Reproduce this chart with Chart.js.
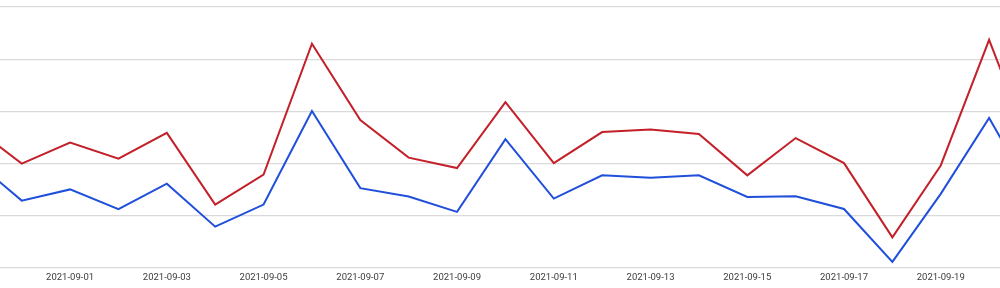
<!DOCTYPE html>
<html>
<head>
<meta charset="utf-8">
<script src="https://cdn.jsdelivr.net/npm/chart.js@4"></script>
<style>
  html, body { margin: 0; padding: 0; background: #fff; }
  #wrap { width: 1000px; height: 288px; position: relative; }
</style>
</head>
<body>
<div id="wrap"><canvas id="chart"></canvas></div>
<script>
// dates shown (the view is cropped at both ends)
const dates = [
  '2021-08-30', '2021-08-31', '2021-09-01', '2021-09-02', '2021-09-03', '2021-09-04',
  '2021-09-05', '2021-09-06', '2021-09-07', '2021-09-08', '2021-09-09', '2021-09-10',
  '2021-09-11', '2021-09-12', '2021-09-13', '2021-09-14', '2021-09-15', '2021-09-16',
  '2021-09-17', '2021-09-18', '2021-09-19', '2021-09-20', '2021-09-21'
];
const redSeries = [54.1, 39.9, 48.0, 41.8, 51.7, 24.2, 35.7, 85.9, 56.6, 42.2, 38.2, 63.5,
  40.1, 52.0, 53.0, 51.3, 35.4, 49.7, 40.1, 11.6, 39.2, 87.4, 39.4];
const blueSeries = [41.4, 25.7, 30.0, 22.4, 32.2, 15.7, 24.2, 60.1, 30.5, 27.3, 21.4, 49.3,
  26.5, 35.4, 34.5, 35.4, 27.1, 27.4, 22.5, 2.2, 28.3, 57.4, 25.2];
const tickDates = ['2021-09-01', '2021-09-03', '2021-09-05', '2021-09-07', '2021-09-09',
  '2021-09-11', '2021-09-13', '2021-09-15', '2021-09-17', '2021-09-19'];

// x value = days from 2021-09-01
const base = dates.indexOf('2021-09-01');
const toPoints = arr => arr.map((y, i) => ({ x: i - base, y: y }));

new Chart(document.getElementById('chart'), {
  type: 'line',
  data: {
    datasets: [
      { data: toPoints(redSeries), borderColor: '#c3202a', borderWidth: 2, pointRadius: 0, tension: 0 },
      { data: toPoints(blueSeries), borderColor: '#1f4fdb', borderWidth: 2, pointRadius: 0, tension: 0 }
    ]
  },
  options: {
    responsive: true,
    maintainAspectRatio: false,
    animation: false,
    layout: { padding: { top: 7, bottom: 1, left: 0, right: 0 } },
    plugins: { legend: { display: false }, tooltip: { enabled: false } },
    scales: {
      x: {
        type: 'linear',
        min: -1.449,
        max: 19.225,
        grid: { display: false, drawTicks: false },
        border: { display: false },
        afterBuildTicks: scale => {
          scale.ticks = tickDates.map(d => ({ value: dates.indexOf(d) - base }));
        },
        ticks: {
          autoSkip: false,
          maxRotation: 0,
          padding: 4,
          color: '#3c3c3c',
          font: { family: 'Roboto', size: 9.5 },
          callback: v => dates[v + base]
        }
      },
      y: {
        min: 0,
        max: 100,
        ticks: { display: false, stepSize: 20 },
        border: { display: false },
        grid: { color: '#dadada', lineWidth: 1.2, drawTicks: false }
      }
    }
  }
});
</script>
</body>
</html>
